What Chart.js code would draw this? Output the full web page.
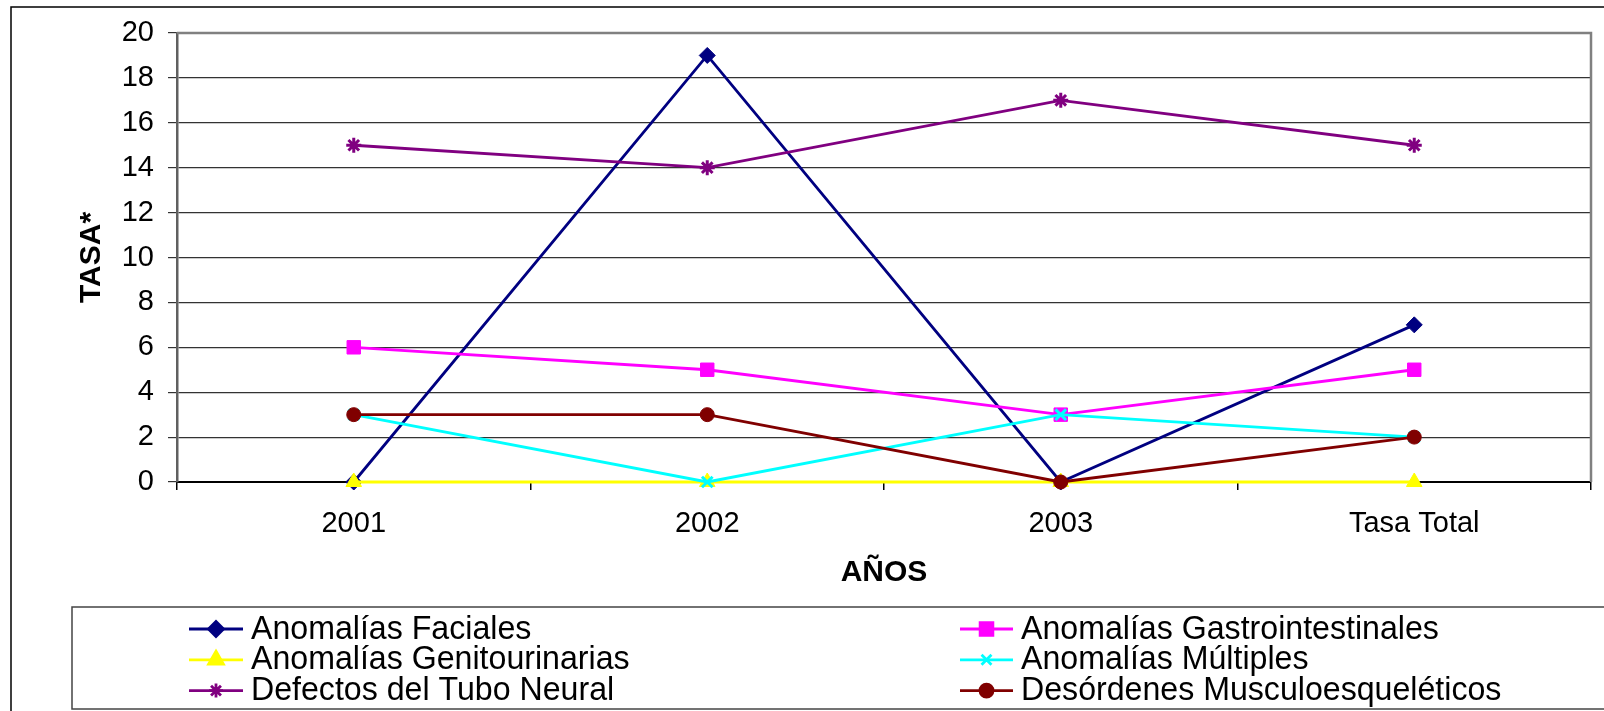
<!DOCTYPE html>
<html>
<head>
<meta charset="utf-8">
<script src="https://cdn.jsdelivr.net/npm/chart.js@4.4.1/dist/chart.umd.min.js"></script>
<style>
  html, body { margin: 0; padding: 0; background: #fff; }
</style>
</head>
<body>
<canvas id="myChart" width="1604" height="711"></canvas>
<script>
// categorías y valores (tasas)
const years = ['2001', '2002', '2003', 'Tasa Total'];
const faciales = [0, 19, 0, 7];
const gastro = [6, 5, 3, 5];
const genito = [0, 0, 0, 0];
const multiples = [3, 0, 3, 2];
const tuboNeural = [15, 14, 17, 15];
const musculo = [3, 3, 0, 2];
const yTicks = [0, 2, 4, 6, 8, 10, 12, 14, 16, 18, 20];

const names = ['Anomalías Faciales', 'Anomalías Gastrointestinales', 'Anomalías Genitourinarias',
  'Anomalías Múltiples', 'Defectos del Tubo Neural', 'Desórdenes Musculoesqueléticos'];
const values = [faciales, gastro, genito, multiples, tuboNeural, musculo];
const colors = ['#000080', '#FF00FF', '#FFFF00', '#00FFFF', '#800080', '#800000'];
const styles = ['rectRot', 'rect', 'triangle', 'crossRot', 'star', 'circle'];
const radii = [8, 9.5, 9, 7.5, 7.5, 7];

const font = "'Liberation Sans', Arial, sans-serif";

const datasets = names.map((n, i) => ({
  label: n,
  data: values[i],
  borderColor: colors[i],
  backgroundColor: colors[i],
  pointBackgroundColor: colors[i],
  pointBorderColor: colors[i],
  pointStyle: styles[i],
  pointRadius: radii[i],
  pointBorderWidth: (styles[i] === 'crossRot' || styles[i] === 'star') ? 3 : 1,
  borderWidth: 2.8,
  tension: 0,
  clip: false,
  order: names.length - i
}));

// marco exterior, marco del área y leyenda
const frame = {
  id: 'frame',
  beforeDraw(chart) {
    const ctx = chart.ctx;
    ctx.save();
    ctx.strokeStyle = '#000';
    ctx.lineWidth = 1.5;
    ctx.strokeRect(11, 7, 1700, 800);
    ctx.strokeStyle = '#444';
    ctx.lineWidth = 1.5;
    ctx.strokeRect(72, 607, 1700, 102);
    ctx.restore();
  },
  beforeDatasetsDraw(chart) {
    const ctx = chart.ctx;
    const a = chart.chartArea;
    ctx.save();
    ctx.strokeStyle = '#808080';
    ctx.lineWidth = 2.5;
    ctx.beginPath();
    ctx.moveTo(a.left, a.top);
    ctx.lineTo(a.right, a.top);
    ctx.lineTo(a.right, a.bottom);
    ctx.stroke();
    ctx.restore();
  },
  afterDraw(chart) {
    const ctx = chart.ctx;
    const cols = [{ x0: 189, x1: 243, tx: 251 }, { x0: 960, x1: 1013, tx: 1021 }];
    ctx.save();
    names.forEach((n, i) => {
      const c = cols[i % 2];
      const y = 629 + 30.8 * Math.floor(i / 2);
      ctx.strokeStyle = colors[i];
      ctx.fillStyle = colors[i];
      ctx.lineWidth = 2.8;
      ctx.beginPath();
      ctx.moveTo(c.x0, y);
      ctx.lineTo(c.x1, y);
      ctx.stroke();
      const xc = (c.x0 + c.x1) / 2;
      Chart.helpers.drawPoint(ctx, {
        pointStyle: styles[i], radius: radii[i] - 0.5, rotation: 0,
        borderWidth: datasets[i].pointBorderWidth
      }, xc, y);
      ctx.save();
      ctx.translate(c.tx, y + 9.5);
      ctx.scale(0.945, 1);
      ctx.fillStyle = '#000';
      ctx.font = '34px ' + font;
      ctx.textBaseline = 'alphabetic';
      ctx.fillText(n, 0, 0);
      ctx.restore();
    });
    ctx.restore();
  }
};

new Chart(document.getElementById('myChart').getContext('2d'), {
  type: 'line',
  data: { labels: years, datasets: datasets },
  options: {
    responsive: false,
    animation: false,
    devicePixelRatio: 1,
    layout: { padding: { left: 0, top: 33, right: 13, bottom: 111 } },
    plugins: { legend: { display: false }, tooltip: { enabled: false } },
    scales: {
      x: {
        offset: true,
        grid: { offset: true, drawOnChartArea: false, drawTicks: true, tickLength: 8, color: '#000', lineWidth: 1.5 },
        border: { color: '#000', width: 2 },
        ticks: { color: '#000', font: { family: font, size: 29 }, padding: 17, maxRotation: 0 },
        title: { display: true, text: 'AÑOS', color: '#000', font: { family: font, size: 30, weight: 'bold' }, padding: { top: 0, bottom: 9 } },
        afterFit: s => { s.height = 118; }
      },
      y: {
        min: 0,
        max: 20,
        afterBuildTicks: s => { s.ticks = yTicks.map(v => ({ value: v })); },
        grid: { color: '#333', lineWidth: 1.2, tickLength: 9 },
        border: { color: '#606060', width: 2.5 },
        ticks: { color: '#000', font: { family: font, size: 29 }, padding: 14 },
        title: { display: true, text: 'TASA*', color: '#000', font: { family: font, size: 30, weight: 'bold' }, padding: { top: 74, bottom: 0 } },
        afterFit: s => { s.width = 177; }
      }
    }
  },
  plugins: [frame]
});
</script>
</body>
</html>
